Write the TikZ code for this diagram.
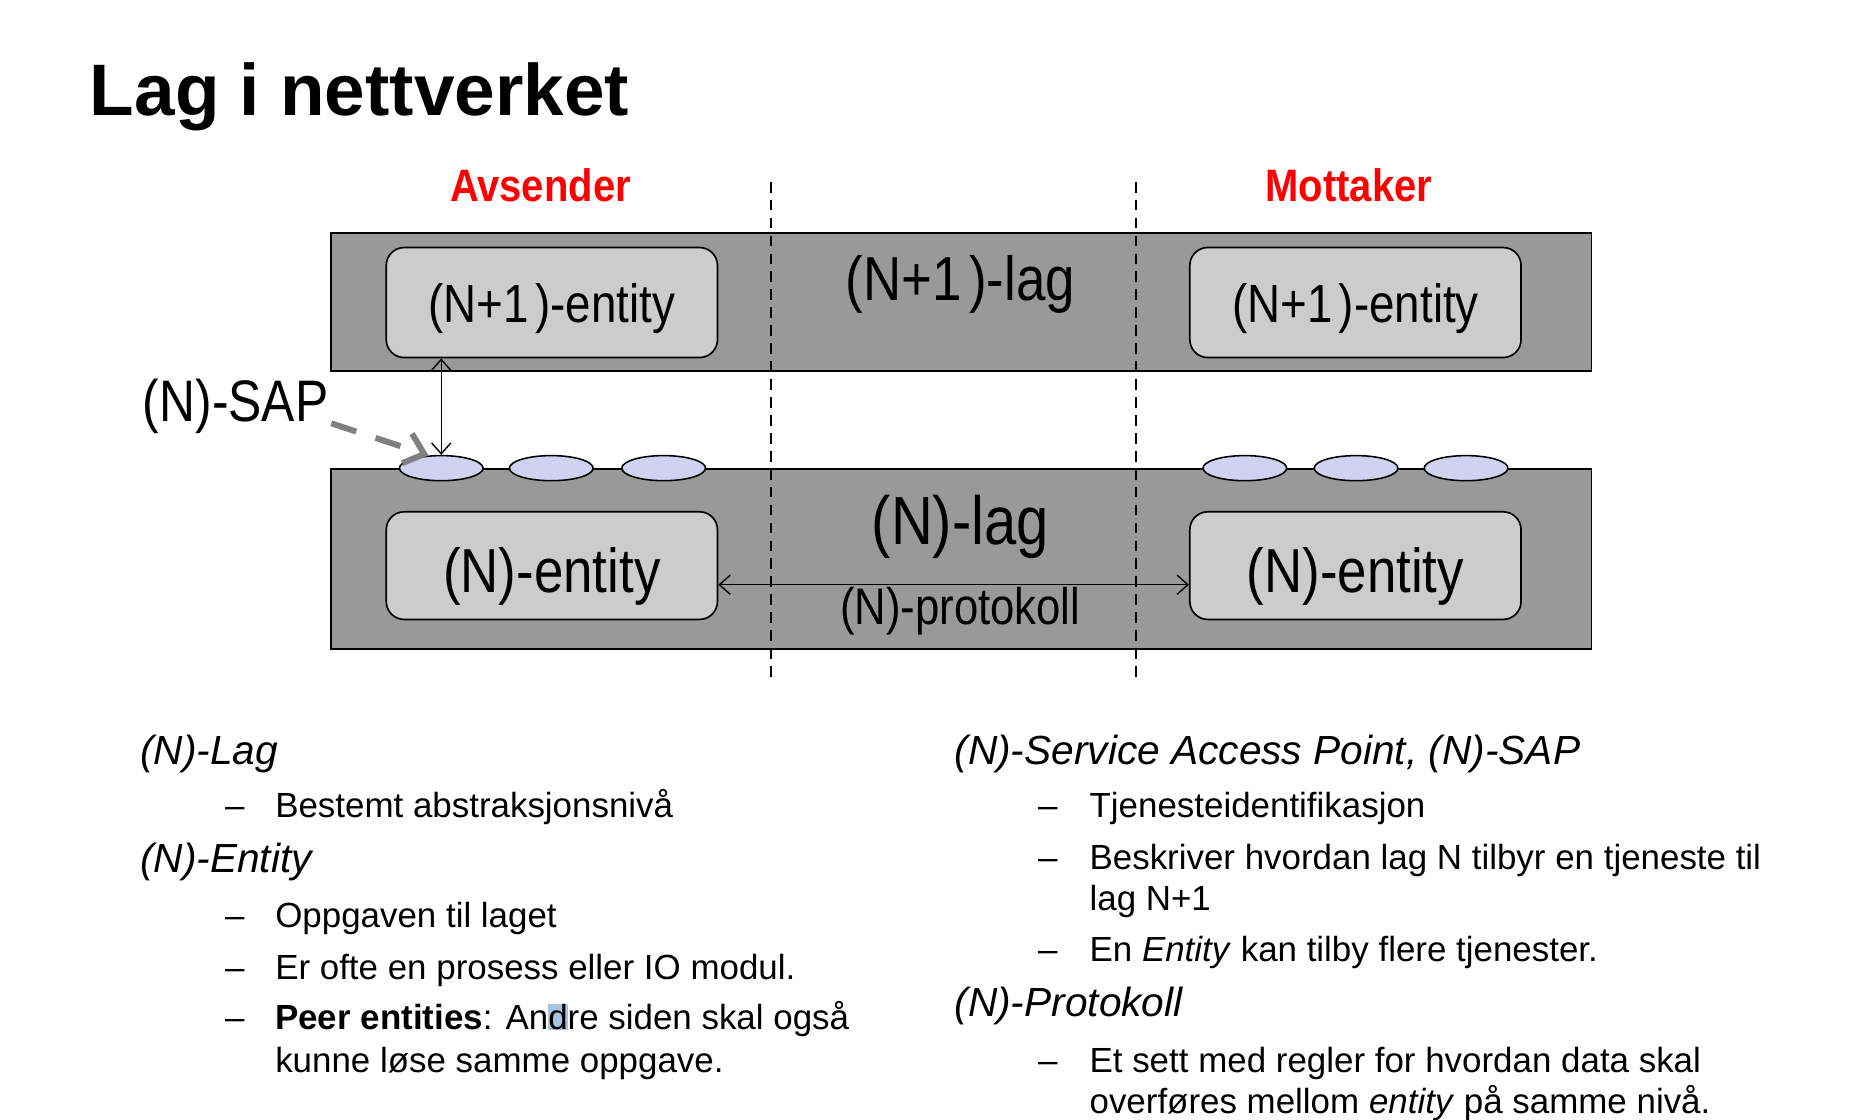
\documentclass[tikz,border=0pt]{standalone}
\usepackage{fontspec}
\setmainfont{Liberation Sans}
% narrow face for the labels inside the layer diagram
\newfontfamily\dgfont[FakeStretch=0.85]{Liberation Sans}
\newfontfamily\sidefont[FakeStretch=0.88]{Liberation Sans}
\usetikzlibrary{arrows.meta,shapes.geometric}
\setlength\fboxsep{0pt}

\definecolor{layergray}{HTML}{999999}
\definecolor{entitygray}{HTML}{CCCCCC}
\definecolor{sapfill}{HTML}{D0D2F0}
\definecolor{pointergray}{HTML}{808080}
\definecolor{sidered}{HTML}{FF0000}
\definecolor{selblue}{HTML}{A6C4E0}

\newcommand{\fs}[1]{\fontsize{#1}{#1}\selectfont}

\tikzset{
  layer/.style={draw=black, line width=1.4, fill=layergray, inner sep=0,
    minimum width=1054, minimum height=#1},
  entity/.style={draw=black, line width=1.4, fill=entitygray, rounded corners=15,
    inner sep=0, minimum width=277, minimum height=#1, font=\dgfont\fs{45},
    text height=34, text depth=0},
  sap/.style={ellipse, draw=black, line width=1.3, fill=sapfill, inner sep=0,
    minimum width=70, minimum height=21},
  dlabel/.style={inner sep=0, font=\dgfont},
  side/.style={inner sep=0, text=sidered, font=\sidefont\bfseries\fs{38}},
  divider/.style={draw=black, line width=1.4, dash pattern=on 9 off 6},
  link/.style={draw=black, line width=1.2, {Straight Barb[length=9,width=16]}-{Straight Barb[length=9,width=16]}},
  pointer/.style={draw=pointergray, line width=5, dash pattern=on 22 off 17,
    -{Straight Barb[length=15,width=26]}},
  head/.style={inner sep=0, anchor=base west, font=\itshape\fs{34}},
  item/.style={inner sep=0, anchor=base west, font=\fs{29.2}},
}

\begin{document}
\begin{tikzpicture}[x=1pt, y=-1pt]
  \useasboundingbox (0,0) rectangle (1568,936);

  % heading
  \node[inner sep=0, anchor=base west, font=\bfseries\fs{61}] (title) at (75,97) {Lag i nettverket};

  % sender / receiver captions
  \node[side] (avs) at (452,155) {Avsender};
  \node[side] (mot) at (1128,155) {Mottaker};

  % the two layers
  \node[layer=115] (toplayer) at (804,252.5) {};
  \node[layer=151] (botlayer) at (804,467.5) {};

  % service access points on the lower layer
  \foreach \n/\x in {1/369, 2/461, 3/555, 4/1041, 5/1134, 6/1226}
    \node[sap] (sap\n) at (\x,391.5) {};

  % entities
  \node[entity=92] (entTL) at (461.5,253) {(N+1\kern.12em)-entity};
  \node[entity=92] (entTR) at (1133.5,253) {(N+1\kern.12em)-entity};
  \node[entity=90, font=\dgfont\fs{52}, text height=45] (entBL) at (461.5,473) {(N)-entity};
  \node[entity=90, font=\dgfont\fs{52}, text height=45] (entBR) at (1133.5,473) {(N)-entity};

  % layer names
  \node[dlabel, font=\dgfont\fs{52}] (toplabel) at (803,238) {(N+1\kern.12em)-lag};
  \node[dlabel, font=\dgfont\fs{57}] (botlabel) at (803,441) {(N)-lag};
  \node[dlabel, font=\dgfont\fs{43}] (proto) at (803,511) {(N)-protokoll};

  % sender / receiver boundaries
  \coordinate (d1a) at (645,152);
  \coordinate (d1b) at (645,570);
  \coordinate (d2a) at (950,152);
  \coordinate (d2b) at (950,570);
  \draw[divider] (d1a) -- (d1b);
  \draw[divider] (d2a) -- (d2b);

  % service access and peer protocol
  \draw[link] (sap1.north |- entTL.south) -- (sap1.north);
  \draw[link] ([yshift=-16]entBL.east) -- ([yshift=-16]entBR.west);

  % SAP label with pointer
  \node[dlabel, font=\dgfont\fs{49}] (saplabel) at (197,340) {(N)-SAP};
  \coordinate (ptrstart) at (277,354);
  \draw[pointer] (ptrstart) -- (sap1.135);

  % left column
  \node[head] (hLag) at (117,639) {(N)-Lag};
  \node[item] (dA1) at (188,684) {–};
  \node[item] (tA1) at (230,684) {Bestemt abstraksjonsnivå};
  \node[head] (hEnt) at (117,730) {(N)-Entity};
  \node[item] (dB1) at (188,776) {–};
  \node[item] (tB1) at (230,776) {Oppgaven til laget};
  \node[item] (dB2) at (188,819) {–};
  \node[item] (tB2) at (230,819) {Er ofte en prosess eller IO modul.};
  \node[item] (dB3) at (188,861) {–};
  \node[item] (tB3) at (230,861) {\textbf{Peer entities}: An\colorbox{selblue}{d}re siden skal også};
  \node[item] (tB3b) at (230,897) {kunne løse samme oppgave.};

  % right column
  \node[head] (hSap) at (798,639) {(N)-Service Access Point, (N)-SAP};
  \node[item] (dC1) at (868,684) {–};
  \node[item] (tC1) at (911,684) {Tjenesteidentifikasjon};
  \node[item] (dC2) at (868,727) {–};
  \node[item] (tC2) at (911,727) {Beskriver hvordan lag N tilbyr en tjeneste til};
  \node[item] (tC2b) at (911,761) {lag N+1};
  \node[item] (dC3) at (868,804) {–};
  \node[item] (tC3) at (911,804) {En \textit{Entity} kan tilby flere tjenester.};
  \node[head] (hPro) at (798,850) {(N)-Protokoll};
  \node[item] (dD1) at (868,897) {–};
  \node[item] (tD1) at (911,897) {Et sett med regler for hvordan data skal};
  \node[item] (tD1b) at (911,931) {overføres mellom \textit{entity} på samme nivå.};
\end{tikzpicture}
\end{document}
